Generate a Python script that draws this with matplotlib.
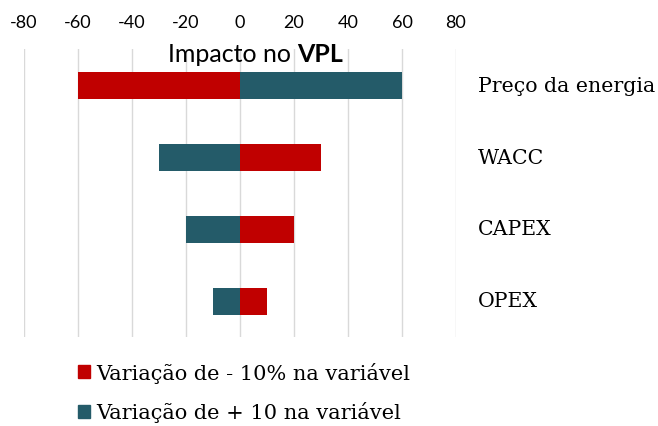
import matplotlib
matplotlib.use("Agg")
import matplotlib.pyplot as plt
from matplotlib.patches import Patch

# tornado chart data: impact on NPV for a +/-10% change in each input
variaveis = ["Preço da energia", "WACC", "CAPEX", "OPEX"]
menos10 = [-60, 30, 20, 10]   # variação de -10%
mais10 = [60, -30, -20, -10]  # variação de +10%
ticks = [-80, -60, -40, -20, 0, 20, 40, 60, 80]

vermelho = "#C00000"
azul = "#245B69"
serif = "DejaVu Serif"
sans = "Lato"

fig = plt.figure(figsize=(6.58, 4.27), dpi=100)
ax = fig.add_axes([24 / 658, 1 - 338 / 427, 432 / 658, 288 / 427])

y = list(range(len(variaveis)))
ax.barh(y, menos10, height=0.375, color=vermelho, zorder=3)
ax.barh(y, mais10, height=0.375, color=azul, zorder=3)

ax.set_xlim(-80, 80)
ax.set_ylim(len(variaveis) - 0.5, -0.5)
ax.set_xticks(ticks)
ax.set_xticklabels([str(t) for t in ticks], fontsize=13, family=sans)
ax.xaxis.tick_top()
ax.tick_params(axis="x", length=0, pad=14)
ax.set_yticks([])
ax.grid(axis="x", color="#D9D9D9", linewidth=1, zorder=0)
for s in ax.spines.values():
    s.set_visible(False)

# category names to the right of the plot area
for i, nome in enumerate(variaveis):
    ax.text(1.05, i, nome, transform=ax.get_yaxis_transform(), va="center",
            ha="left", fontsize=14.8, family=serif)

# title with bold "VPL"
t1 = fig.text(168 / 658, 1 - 62 / 427, "Impacto no ", fontsize=18, family=sans,
              va="baseline", ha="left")
ax.annotate("VPL", xy=(1, 0), xycoords=t1, va="bottom", ha="left",
            fontsize=18, family=sans, fontweight="bold")

handles = [Patch(color=vermelho, label="Variação de - 10% na variável"),
           Patch(color=azul, label="Variação de + 10 na variável")]
fig.legend(handles=handles, loc="upper left", bbox_to_anchor=(59 / 658, 1 - 344 / 427),
           frameon=False, prop={"family": serif, "size": 15}, handlelength=0.6,
           handleheight=0.6, handletextpad=0.3, labelspacing=0.9)

fig.savefig("out.png", dpi=100)
